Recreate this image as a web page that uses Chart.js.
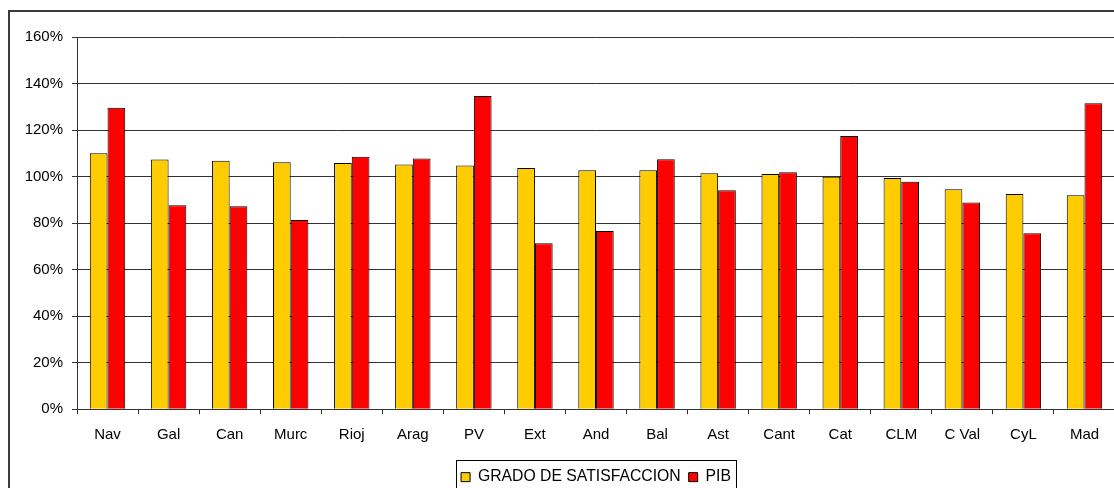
<!DOCTYPE html>
<html>
<head>
<meta charset="utf-8">
<script src="https://cdn.jsdelivr.net/npm/chart.js@4/dist/chart.umd.min.js"></script>
<style>
  html, body { margin: 0; padding: 0; overflow: hidden; background: #fff; }
  canvas { display: block; }
</style>
</head>
<body>
<canvas id="chart" width="1183" height="500"></canvas>
<script>
// Regions (short names) and their values, in percent
const regions = ['Nav', 'Gal', 'Can', 'Murc', 'Rioj', 'Arag', 'PV', 'Ext', 'And', 'Bal', 'Ast', 'Cant', 'Cat', 'CLM', 'C Val', 'CyL', 'Mad'];
const satisfaccion = [110.0, 107.4, 106.8, 106.2, 105.8, 105.2, 104.8, 103.7, 102.7, 102.7, 101.4, 101.1, 99.9, 99.4, 94.6, 92.5, 92.0];
const pib = [129.6, 87.7, 87.2, 81.3, 108.5, 107.8, 134.6, 71.3, 76.6, 107.5, 94.1, 101.9, 117.4, 97.8, 88.9, 75.6, 131.5];
const seriesNames = ['GRADO DE SATISFACCION', 'PIB'];
const yMin = 0, yMax = 160, yStep = 20;

const FONT = '"Liberation Sans", Arial, sans-serif';
const GRID = '#333333';

// White background, outer frame and the border around the legend
const framePlugin = {
  id: 'frame',
  beforeDraw(chart) {
    const ctx = chart.ctx;
    ctx.save();
    ctx.fillStyle = '#ffffff';
    ctx.fillRect(0, 0, chart.width, chart.height);
    ctx.strokeStyle = '#3a3a3a';
    ctx.lineWidth = 2;
    ctx.strokeRect(9, 11, chart.width + 40, chart.height + 40);
    ctx.restore();
  },
  afterDraw(chart) {
    const boxes = chart.legend && chart.legend.legendHitBoxes;
    if (!boxes || !boxes.length) return;
    const first = boxes[0], last = boxes[boxes.length - 1];
    const x0 = Math.round(first.left) - 5;
    const x1 = Math.round(last.left + last.width) + 5;
    const ctx = chart.ctx;
    ctx.save();
    ctx.strokeStyle = '#000000';
    ctx.lineWidth = 1;
    ctx.strokeRect(x0 + 0.5, 460.5, x1 - x0, 100);
    ctx.restore();
  }
};

new Chart(document.getElementById('chart'), {
  type: 'bar',
  data: {
    labels: regions,
    datasets: [
      {
        label: seriesNames[0],
        data: satisfaccion,
        backgroundColor: '#FFCC00',
        borderColor: '#000000',
        borderWidth: 1,
        categoryPercentage: 0.58,
        barPercentage: 1.0
      },
      {
        label: seriesNames[1],
        data: pib,
        backgroundColor: '#FF0000',
        borderColor: '#000000',
        borderWidth: 1,
        categoryPercentage: 0.58,
        barPercentage: 1.0
      }
    ]
  },
  options: {
    responsive: false,
    animation: false,
    devicePixelRatio: 1,
    layout: { padding: { left: 9, right: 0, top: 37, bottom: 5 } },
    plugins: {
      title: { display: false },
      tooltip: { enabled: false },
      legend: {
        position: 'bottom',
        labels: {
          boxWidth: 9,
          boxHeight: 9,
          padding: 8,
          color: '#000000',
          font: { family: FONT, size: 15.75 },
          useBorderRadius: false
        }
      }
    },
    scales: {
      x: {
        afterFit(scale) { scale.height = 52; },
        grid: {
          offset: true,
          drawOnChartArea: false,
          drawTicks: true,
          tickLength: 5,
          color: GRID
        },
        border: { display: true, color: GRID, width: 1 },
        ticks: {
          color: '#000000',
          font: { family: FONT, size: 15 },
          padding: 11.5,
          maxRotation: 0,
          autoSkip: false
        }
      },
      y: {
        min: yMin,
        max: yMax,
        afterFit(scale) { scale.width = 68; },
        grid: {
          color: GRID,
          lineWidth: 1,
          drawTicks: true,
          tickLength: 5
        },
        border: { display: true, color: GRID, width: 1 },
        ticks: {
          stepSize: yStep,
          color: '#000000',
          font: { family: FONT, size: 15 },
          padding: 9,
          callback: v => v + '%'
        }
      },
      // empty strip past the right edge of the plot; keeps the legend centred under the bars
      spacer: {
        type: 'linear',
        position: 'right',
        display: true,
        afterFit(scale) { scale.width = 68; },
        grid: { display: false, drawTicks: false },
        border: { display: false },
        ticks: { display: false }
      }
    }
  },
  plugins: [framePlugin]
});
</script>
</body>
</html>
